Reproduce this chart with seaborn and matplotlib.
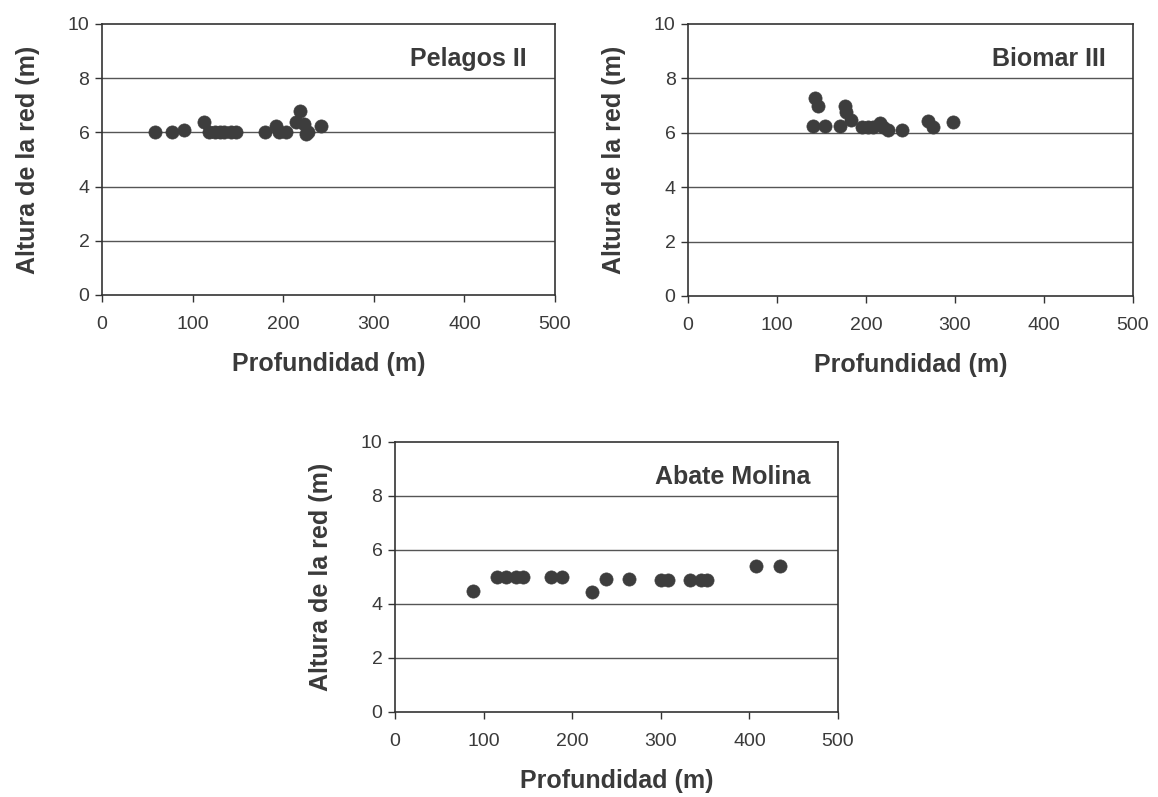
import numpy as np
import pandas as pd
import matplotlib
matplotlib.use("Agg")
import matplotlib.pyplot as plt
import seaborn as sns

# Pelagos II
pel_prof = [59, 77, 90, 113, 118, 125, 130, 135, 142, 148, 180, 192, 195, 203, 214, 219, 223, 225, 227, 242]
pel_alt = [6.0, 6.0, 6.1, 6.4, 6.0, 6.0, 6.0, 6.0, 6.0, 6.0, 6.0, 6.25, 6.0, 6.0, 6.4, 6.8, 6.3, 5.95, 6.0, 6.25]

# Biomar III
bio_prof = [143, 146, 141, 154, 171, 176, 178, 183, 196, 202, 208, 216, 219, 225, 240, 270, 275, 298]
bio_alt = [7.28, 6.97, 6.25, 6.25, 6.25, 7.0, 6.75, 6.47, 6.2, 6.2, 6.2, 6.35, 6.2, 6.1, 6.1, 6.45, 6.2, 6.4]

# Abate Molina
aba_prof = [88, 115, 125, 137, 145, 176, 188, 222, 238, 264, 300, 308, 333, 345, 352, 407, 435]
aba_alt = [4.5, 5.0, 5.0, 5.0, 5.0, 5.0, 5.0, 4.45, 4.93, 4.93, 4.9, 4.9, 4.9, 4.9, 4.9, 5.4, 5.4]

barcos = ["Pelagos II", "Biomar III", "Abate Molina"]

sns.set_style("white")
plt.rcParams['font.family'] = ['Liberation Sans', 'DejaVu Sans']

W, H = 1158, 797
fig = plt.figure(figsize=(W / 100, H / 100), dpi=100)

# axes boxes in pixels: left, right, top, bottom
boxes = [(102, 555, 24, 295), (688, 1133, 24, 296), (395, 838, 442, 712)]
datasets = [(pel_prof, pel_alt), (bio_prof, bio_alt), (aba_prof, aba_alt)]


def make_ax(box):
    l, r, t, b = box
    return fig.add_axes([l / W, 1 - b / H, (r - l) / W, (b - t) / H])


for box, (xs, ys), name in zip(boxes, datasets, barcos):
    ax = make_ax(box)
    df = pd.DataFrame({"Profundidad": xs, "Altura": ys})
    for yv in [2, 4, 6, 8]:
        ax.axhline(yv, color="#555555", lw=1.0, zorder=0)
    sns.scatterplot(data=df, x="Profundidad", y="Altura", ax=ax, s=90,
                    color="#3d3d3d", edgecolor="#3d3d3d", linewidth=0.5, zorder=3)
    ax.set_xlim(0, 500)
    ax.set_ylim(0, 10)
    ax.set_xticks([0, 100, 200, 300, 400, 500])
    ax.set_yticks([0, 2, 4, 6, 8, 10])
    ax.tick_params(axis="both", direction="out", length=5, width=1, color="#333333",
                   labelsize=14, labelcolor="#3a3a3a", left=True, bottom=True)
    ax.tick_params(axis="x", pad=10)
    ax.tick_params(axis="y", pad=4)
    for sp in ax.spines.values():
        sp.set_color("#333333")
        sp.set_linewidth(1.2)
    ax.set_xlabel("Profundidad (m)", fontsize=18, fontweight="bold", color="#3a3a3a", labelpad=14)
    ax.set_ylabel("Altura de la red (m)", fontsize=18, fontweight="bold", color="#3a3a3a", labelpad=20)
    ax.text(0.938, 0.87, name, transform=ax.transAxes, ha="right", va="center",
            fontsize=18, fontweight="bold", color="#3a3a3a")

fig.savefig("out.png", dpi=100)
